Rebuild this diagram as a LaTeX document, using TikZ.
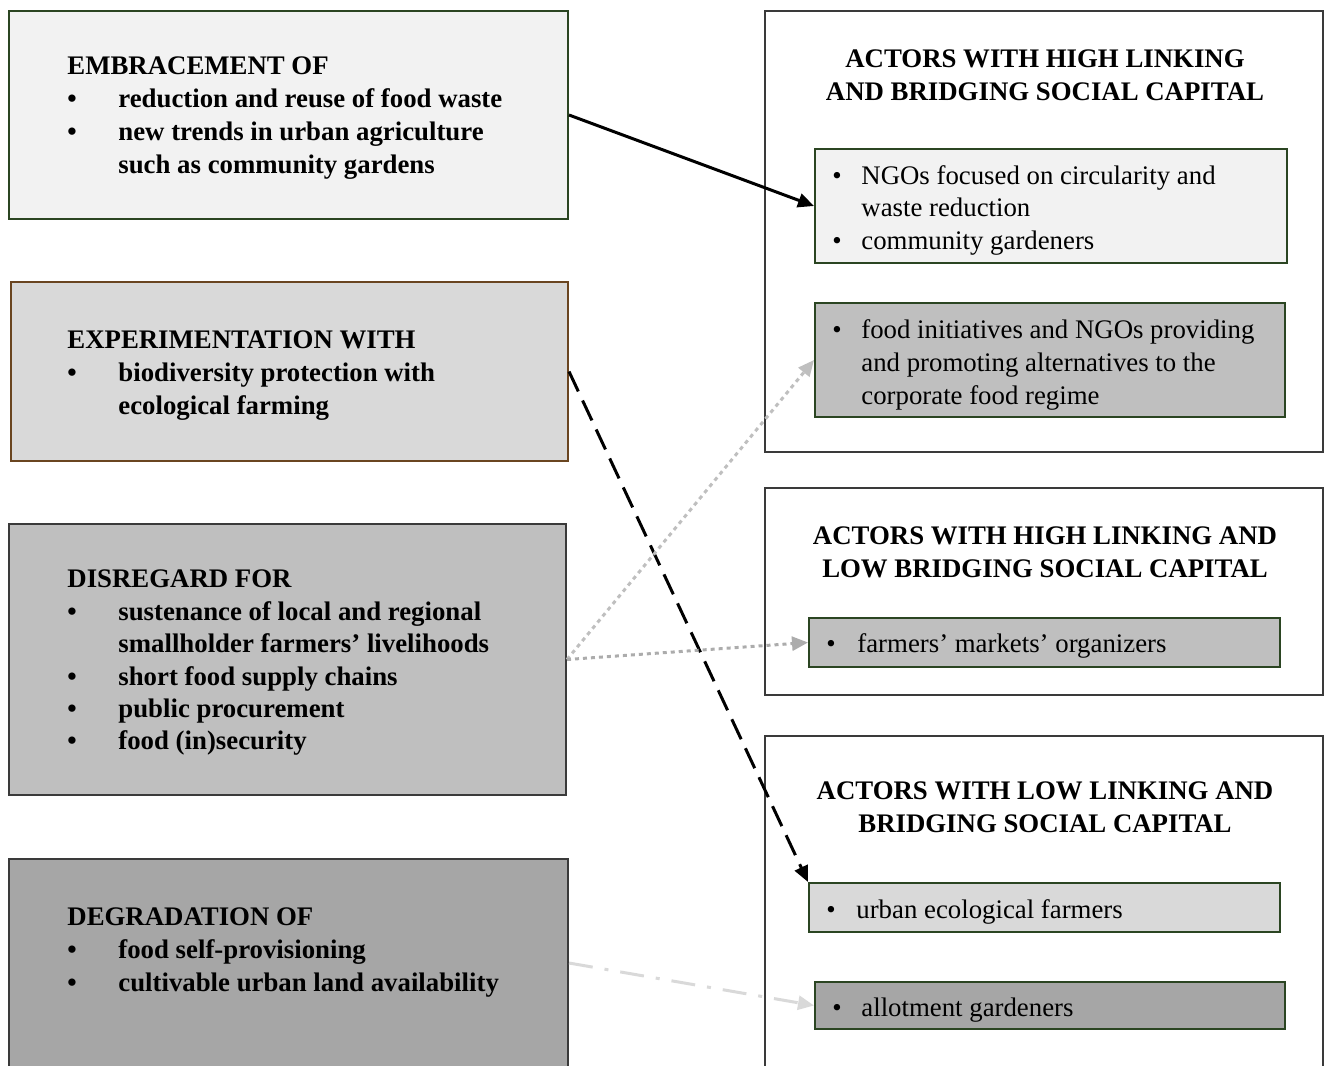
\documentclass[tikz,border=0pt]{standalone}
\usepackage{fontspec}
\setmainfont{Liberation Serif}
\usetikzlibrary{fit,arrows.meta}
\definecolor{dgreen}{HTML}{2B4522}
\definecolor{dbrown}{HTML}{6A4520}
\definecolor{dgray}{HTML}{3A3A3A}
\definecolor{f1}{HTML}{F2F2F2}
\definecolor{f2}{HTML}{D9D9D9}
\definecolor{f3}{HTML}{BFBFBF}
\definecolor{f4}{HTML}{A6A6A6}
\tikzset{
  box/.style={draw=#1, line width=1pt, inner sep=0pt, rectangle},
  txt/.style={anchor=base west, inner sep=0pt, font=\fontsize{13.4}{16.5}\selectfont},
  btxt/.style={txt, font=\fontsize{13.4}{16.5}\selectfont\bfseries},
  ttl/.style={anchor=base, inner sep=0pt, align=center, font=\fontsize{13.4}{16.3}\selectfont\bfseries},
  tip/.style={-{Triangle[length=8pt,width=7pt]}, line width=1.5pt},
}
\begin{document}
\begin{tikzpicture}[x=0.5pt,y=-0.5pt]
\useasboundingbox (0,0) rectangle (1325,1065);
\clip (0,0) rectangle (1325,1065);
% left boxes
\node[box=dgreen, fill=f1, fit={(9,11)(568,219)}] (e1) {};
\node[box=dbrown, fill=f2, fit={(11,282)(568,461)}] (x2) {};
\node[box=dgray, fill=f3, fit={(9,524)(566,795)}] (d3) {};
\node[box=dgray, fill=f4, fit={(9,859)(568,1067)}] (g4) {};
% right outer boxes
\node[box=dgray, fill=white, fit={(765,11)(1323,452)}] (oa) {};
\node[box=dgray, fill=white, fit={(765,488)(1323,695)}] (ob) {};
\node[box=dgray, fill=white, fit={(765,736)(1323,1090)}] (oc) {};
% inner boxes
\node[box=dgreen, fill=f1, fit={(815,149)(1287,263)}] (a1) {};
\node[box=dgreen, fill=f3, fit={(815,303)(1285,417)}] (a2) {};
\node[box=dgreen, fill=f3, fit={(809,618)(1280,667)}] (b1) {};
\node[box=dgreen, fill=f2, fit={(809,883)(1280,932)}] (c1) {};
\node[box=dgreen, fill=f4, fit={(815,982)(1285,1029)}] (c2) {};
% left texts
\node[btxt] (t1) at (67,75) {EMBRACEMENT OF};
\node[btxt] (t1b1) at (67,107) {•};
\node[btxt] (t1i1) at (118,107) {reduction and reuse of food waste};
\node[btxt] (t1b2) at (67,140) {•};
\node[btxt] (t1i2) at (118,140) {new trends in urban agriculture};
\node[btxt] (t1i3) at (118,173) {such as community gardens};

\node[btxt] (t2) at (67,348) {EXPERIMENTATION WITH};
\node[btxt] (t2b1) at (67,381) {•};
\node[btxt] (t2i1) at (118,381) {biodiversity protection with};
\node[btxt] (t2i2) at (118,414) {ecological farming};

\node[btxt] (t3) at (67,587) {DISREGARD FOR};
\node[btxt] (t3b1) at (67,620) {•};
\node[btxt] (t3i1) at (118,620) {sustenance of local and regional};
\node[btxt] (t3i2) at (118,652) {smallholder farmers’ livelihoods};
\node[btxt] (t3b3) at (67,685) {•};
\node[btxt] (t3i3) at (118,685) {short food supply chains};
\node[btxt] (t3b4) at (67,717) {•};
\node[btxt] (t3i4) at (118,717) {public procurement};
\node[btxt] (t3b5) at (67,749) {•};
\node[btxt] (t3i5) at (118,749) {food (in)security};

\node[btxt] (t4) at (67,925) {DEGRADATION OF};
\node[btxt] (t4b1) at (67,958) {•};
\node[btxt] (t4i1) at (118,958) {food self-provisioning};
\node[btxt] (t4b2) at (67,991) {•};
\node[btxt] (t4i2) at (118,991) {cultivable urban land availability};
% right titles
\node[ttl] (ta) at (1045,100) {ACTORS WITH HIGH LINKING\\AND BRIDGING SOCIAL CAPITAL};
\node[ttl] (tb) at (1045,577) {ACTORS WITH HIGH LINKING AND\\LOW BRIDGING SOCIAL CAPITAL};
\node[ttl] (tc) at (1045,832) {ACTORS WITH LOW LINKING AND\\BRIDGING SOCIAL CAPITAL};
% inner texts
\node[txt] (a1b1) at (832,184) {•};
\node[txt] (a1i1) at (861,184) {NGOs focused on circularity and};
\node[txt] (a1i2) at (861,216) {waste reduction};
\node[txt] (a1b2) at (832,249) {•};
\node[txt] (a1i3) at (861,249) {community gardeners};
\node[txt] (a2b1) at (832,338) {•};
\node[txt] (a2i1) at (861,338) {food initiatives and NGOs providing};
\node[txt] (a2i2) at (861,371) {and promoting alternatives to the};
\node[txt] (a2i3) at (861,404) {corporate food regime};
\node[txt] (b1b1) at (826,652) {•};
\node[txt] (b1i1) at (857,652) {farmers’ markets’ organizers};
\node[txt] (c1b1) at (826,918) {•};
\node[txt] (c1i1) at (856,918) {urban ecological farmers};
\node[txt] (c2b1) at (832,1016) {•};
\node[txt] (c2i1) at (861,1016) {allotment gardeners};
% arrows
\draw[tip, black] (e1.east) -- (a1.west);
\draw[tip, black, dash pattern=on 11pt off 5pt] (x2.east) -- (c1.north west);
\draw[tip, color=f3, dash pattern=on 2pt off 2pt] (d3.east) -- (a2.west);
\draw[tip, color=f3!90!black, dash pattern=on 2pt off 2pt] (d3.east) -- (b1.west);
\draw[tip, color=f2, dash pattern=on 12pt off 6pt on 2pt off 6pt] (g4.east) -- (c2.west);
\end{tikzpicture}
\end{document}
